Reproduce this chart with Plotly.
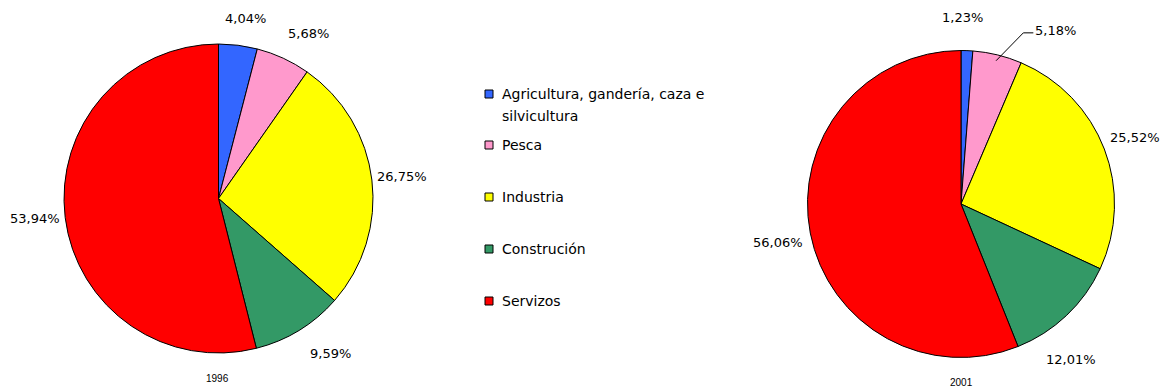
import math
import plotly.graph_objects as go

# Sector shares of the economy (%), two reference years
sectors = ["Agricultura, gandería, caza e silvicultura", "Pesca", "Industria",
           "Construción", "Servizos"]
legend_lines = [["Agricultura, gandería, caza e", "silvicultura"], ["Pesca"], ["Industria"],
                ["Construción"], ["Servizos"]]
shares_1996 = [4.04, 5.68, 26.75, 9.59, 53.94]
shares_2001 = [1.23, 5.18, 25.52, 12.01, 56.06]
years = ["1996", "2001"]

colors = ["#3366FF", "#FF99CC", "#FFFF00", "#339966", "#FF0000"]

W, H = 1160, 387
FONT = "DejaVu Sans"

# Pie geometry in pixels: centre x, centre y, radius
pies = [(218.5, 198.5, 154.5), (961, 204, 153.5)]
label_gap = [30, 33]          # distance of a label centre beyond the rim
# Hand-adjusted label offsets (year index, slice index) -> (dx, dy) in pixels
label_nudge = {(0, 0): (4, 3), (0, 1): (13, 3), (0, 3): (16, -2), (0, 4): (0, -3),
               (1, 0): (-6, 0), (1, 1): (50, 8), (1, 3): (-18, 20), (1, 4): (0, 3)}
# Labels moved far enough to need a leader line
leader = {(1, 1)}


def px(x, y):
    return x / W, 1 - y / H


fig = go.Figure()

for k, (values, (cx, cy, r)) in enumerate(zip([shares_1996, shares_2001], pies)):
    fig.add_trace(go.Pie(
        labels=sectors,
        values=values,
        sort=False,
        direction="clockwise",
        rotation=0,
        domain=dict(x=[(cx - r) / W, (cx + r) / W], y=[1 - (cy + r) / H, 1 - (cy - r) / H]),
        marker=dict(colors=colors, line=dict(color="black", width=1)),
        textinfo="none",
        showlegend=False,
        hoverinfo="label+value",
    ))

    # Percentage labels placed around the rim at each slice's mid-angle
    total = sum(values)
    cum = 0.0
    for i, v in enumerate(values):
        theta = math.radians((cum + v / 2) / total * 360)
        cum += v
        d = r + label_gap[k]
        lx = cx + d * math.sin(theta)
        ly = cy - d * math.cos(theta)
        text = f"{v:.2f}%".replace(".", ",")
        ndx, ndy = label_nudge.get((k, i), (0, 0))
        lx, ly = lx + ndx, ly + ndy
        if (k, i) in leader:
            # elbow leader from the slice rim to the moved label
            ex = cx + (r - 6) * math.sin(theta)
            ey = cy - (r - 6) * math.cos(theta)
            p = [px(ex, ey), px(lx - 32, ly + 2), px(lx - 22, ly + 2)]
            fig.add_shape(type="path", xref="paper", yref="paper",
                          path=f"M {p[0][0]},{p[0][1]} L {p[1][0]},{p[1][1]} L {p[2][0]},{p[2][1]}",
                          line=dict(color="black", width=1))
        ax, ay = px(lx, ly)
        fig.add_annotation(x=ax, y=ay, xref="paper", yref="paper", text=text,
                           showarrow=False, xanchor="center", yanchor="middle",
                           font=dict(family=FONT, size=13, color="black"))

# Year captions beneath each pie
for year, cx, cy in zip(years, [217, 961], [378, 382]):
    ax, ay = px(cx, cy)
    fig.add_annotation(x=ax, y=ay, xref="paper", yref="paper",
                       text=year, showarrow=False,
                       font=dict(family="Liberation Sans", size=10, color="black"),
                       xanchor="center", yanchor="middle")

# Legend: coloured square + label for each sector
legend_rows = [94, 145, 197, 249, 301]
for lines, color, yc in zip(legend_lines, colors, legend_rows):
    x0, y0 = px(485, yc + 4)
    x1, y1 = px(493, yc - 4)
    fig.add_shape(type="rect", xref="paper", yref="paper", x0=x0, x1=x1, y0=y0, y1=y1,
                  fillcolor=color, line=dict(color="black", width=1))
    for j, line in enumerate(lines):
        ax, ay = px(500, yc + 22 * j)
        fig.add_annotation(x=ax, y=ay, xref="paper", yref="paper",
                           text=line, showarrow=False, align="left",
                           font=dict(family=FONT, size=14, color="black"),
                           xanchor="left", yanchor="middle")

fig.update_layout(
    width=W, height=H,
    margin=dict(l=0, r=0, t=0, b=0),
    paper_bgcolor="white",
    plot_bgcolor="white",
)

fig.write_html("out.html")
